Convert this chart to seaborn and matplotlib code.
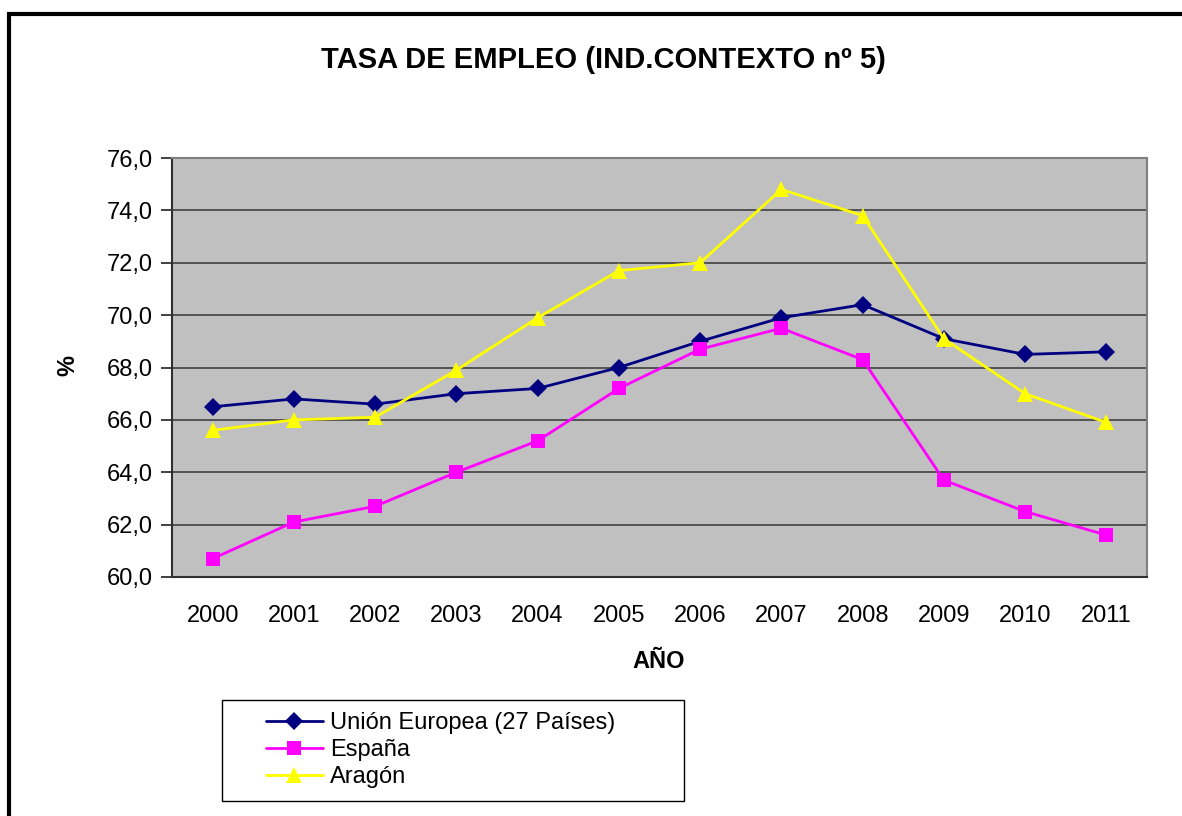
import matplotlib
matplotlib.use("Agg")
import matplotlib.pyplot as plt
import matplotlib.patches as mpatches
import seaborn as sns
import pandas as pd
import numpy as np

years = ["2000", "2001", "2002", "2003", "2004", "2005", "2006", "2007", "2008", "2009", "2010", "2011"]
ue27 = [66.5, 66.8, 66.6, 67.0, 67.2, 68.0, 69.0, 69.9, 70.4, 69.1, 68.5, 68.6]
espana = [60.7, 62.1, 62.7, 64.0, 65.2, 67.2, 68.7, 69.5, 68.3, 63.7, 62.5, 61.6]
aragon = [65.6, 66.0, 66.1, 67.9, 69.9, 71.7, 72.0, 74.8, 73.8, 69.1, 67.0, 65.9]
series_names = ["Unión Europea (27 Países)", "España", "Aragón"]
yticks = [60, 62, 64, 66, 68, 70, 72, 74, 76]

title = "TASA DE EMPLEO (IND.CONTEXTO nº 5)"
xlabel = "AÑO"
ylabel = "%"

sns.set_theme(style="white")
plt.rcParams["font.family"] = ["Liberation Sans", "DejaVu Sans"]
plt.rcParams["text.color"] = "black"
plt.rcParams["xtick.color"] = "black"
plt.rcParams["ytick.color"] = "black"

rows = []
for name, vals in zip(series_names, [ue27, espana, aragon]):
    for i, v in enumerate(vals):
        rows.append({"idx": i, "valor": v, "serie": name})
df = pd.DataFrame(rows)

palette = {series_names[0]: "#000080", series_names[1]: "#FF00FF", series_names[2]: "#FFFF00"}
markers = {series_names[0]: "D", series_names[1]: "s", series_names[2]: "^"}
msizes = [9, 10, 12]

fig = plt.figure(figsize=(11.82, 8.16), dpi=100)
ax = fig.add_axes([172/1182, 1-577/816, (1147-172)/1182, (577-158)/816])
ax.set_facecolor("#C0C0C0")

sns.lineplot(data=df, x="idx", y="valor", hue="serie", style="serie",
             palette=palette, markers=markers, dashes=False, linewidth=2,
             markersize=10, markeredgewidth=0, ax=ax, legend=False)
for line, ms in zip(ax.lines, msizes):
    line.set_markersize(ms)

ax.set_xlim(-0.5, 11.5)
ax.set_ylim(60, 76)
ax.set_yticks(yticks)
ax.set_yticklabels([f"{v:.1f}".replace(".", ",") for v in yticks], fontsize=17)
ax.yaxis.grid(True, color="#404040", linewidth=1.2)
ax.set_axisbelow(True)

ax.set_xticks(range(len(years)))
ax.set_xticklabels(years, fontsize=17)
ax.set_xticks(np.arange(-0.5, len(years), 1.0), minor=True)
ax.tick_params(axis="x", which="major", length=0, pad=20)
ax.tick_params(axis="x", which="minor", length=8, width=1.2, color="#202020", direction="out")
ax.tick_params(axis="y", length=8, width=1.2, color="#202020", direction="out", pad=6, left=True)

for side in ["left", "bottom"]:
    ax.spines[side].set_color("#303030")
    ax.spines[side].set_linewidth(1.5)
for side in ["top", "right"]:
    ax.spines[side].set_color("#808080")
    ax.spines[side].set_linewidth(1.5)
    ax.spines[side].set_visible(True)

ax.set_xlabel("")
ax.set_ylabel("")
fig.text(659/1182, 1-661/816, xlabel, ha="center", va="center", fontsize=17, fontweight="bold")
fig.text(68/1182, 1-365/816, ylabel, ha="center", va="center", fontsize=17, fontweight="bold", rotation=90)
fig.text(603/1182, 1-60/816, title, ha="center", va="center", fontsize=21, fontweight="bold")

handles = [plt.Line2D([], [], color=palette[n], marker=markers[n], linewidth=2,
                      markersize=ms, markeredgewidth=0)
           for n, ms in zip(series_names, msizes)]
leg = fig.legend(handles, series_names, loc="center left",
                 bbox_to_anchor=(266/1182, 1-750/816),
                 fontsize=17, frameon=False,
                 handlelength=2.4, handletextpad=0.3, labelspacing=0.22,
                 borderpad=0, borderaxespad=0)

# legend frame
fig.patches.append(mpatches.Rectangle((222/1182, 1-801/816), (684-222)/1182, (801-700)/816,
                                      transform=fig.transFigure, fill=False,
                                      edgecolor="black", linewidth=1.0))

# outer chart border (extends past right/bottom edges)
fig.patches.append(mpatches.Rectangle((9/1182, -0.2), 1.5, 1.2 - 14/816,
                                      transform=fig.transFigure, fill=False,
                                      edgecolor="black", linewidth=3, clip_on=False))

fig.savefig("out.png", dpi=100)
